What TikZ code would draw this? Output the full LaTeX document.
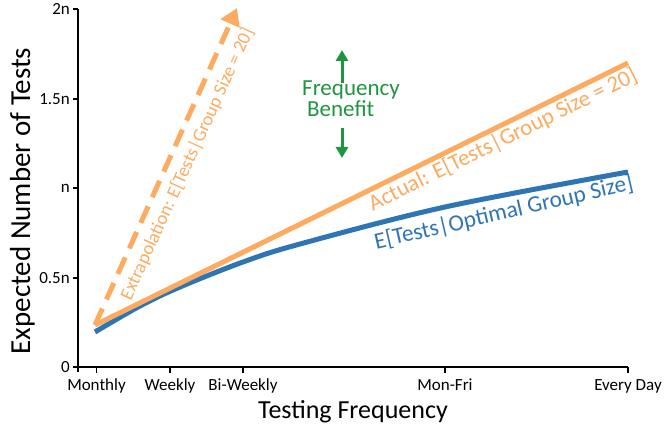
\documentclass[tikz,border=0pt]{standalone}
\usepackage{fontspec}
\setmainfont{Carlito}
\usetikzlibrary{arrows.meta}
\definecolor{corange}{RGB}{253,171,96}
\definecolor{cblue}{RGB}{46,117,182}
\definecolor{cgreen}{RGB}{30,150,65}
\begin{document}
\begin{tikzpicture}[x=1pt,y=-1pt,
  axisline/.style={line width=2.8pt, black},
  tickline/.style={line width=1.6pt, black},
  ticklab/.style={font=\fontsize{17}{20}\selectfont, inner sep=0pt},
  ytitle/.style={font=\fontsize{29}{32}\selectfont, inner sep=0pt},
  xtitle/.style={font=\fontsize{26}{30}\selectfont, inner sep=0pt},
  series/.style={line width=5pt},
  serieslab/.style={inner sep=0pt},
  benefit/.style={cgreen, line width=3pt, -{Triangle[width=12pt,length=11pt]}},
  ]
\useasboundingbox (0,0) rectangle (664,427);

% axes
\coordinate (ytop) at (78,9);
\coordinate (ybot) at (78,372);
\coordinate (xl) at (78,367);
\coordinate (xr) at (628,367);
\draw[axisline] (ytop) -- (ybot);
\draw[axisline] (xl) -- (xr);

% y ticks and labels
\foreach \v/\t/\n in {9/2n/ya, 99/1.5n/yb, 188/n/yc, 278/0.5n/yd, 367/0/ye}{
  \draw[tickline] (73,\v) -- (78,\v);
  \node[ticklab, anchor=east] (\n) at (70,\v) {\t};
}
% x ticks and labels
\foreach \u/\t/\n in {96.5/Monthly/xa, 170/Weekly/xb, 243/Bi-Weekly/xc, 445/Mon-Fri/xd, 628/Every Day/xe}{
  \draw[tickline] (\u,367) -- (\u,373);
  \node[ticklab, anchor=base] (\n) at (\u,391) {\t};
}

% axis titles
\node[xtitle, anchor=base] (xt) at (353,418) {Testing Frequency};
\node[ytitle, anchor=base, rotate=90] (yt) at (30,201) {Expected Number of Tests};

% optimal group size curve
\draw[series, cblue] plot[smooth, tension=0.55] coordinates
  {(95,332) (140,306) (180,287) (243,262) (300,244) (445,207) (628,172)};

% actual and extrapolation
\coordinate (o0) at (95,325);
\coordinate (oend) at (628,63);
\coordinate (xtip) at (237,8);
\draw[series, corange] (o0) -- (oend);
\draw[series, corange, dash pattern=on 18pt off 10pt,
      -{Triangle[width=20pt,length=17pt]}] (o0) -- (xtip);

% series labels
\node[serieslab, corange, rotate=65.5, font=\fontsize{18.7}{20}\selectfont] (extra) at (187.5,164)
  {Extrapolation: E[Tests|Group Size = 20]};
\node[serieslab, corange, rotate=26.2, font=\fontsize{22.8}{24}\selectfont] (actual) at (503,140)
  {Actual: E[Tests|Group Size = 20]};
\node[serieslab, cblue, rotate=13, font=\fontsize{23.3}{24}\selectfont] (optimal) at (504,213)
  {E[Tests|Optimal Group Size]};

% frequency benefit
\node[cgreen, inner sep=0pt, align=left, anchor=north west,
      font=\fontsize{23}{19.5}\selectfont] (fb) at (302,81)
  {Frequency\\\hspace*{5pt}Benefit};
\coordinate (ua) at (342,83);
\coordinate (ub) at (342,50);
\coordinate (da) at (342,128);
\coordinate (db) at (342,158);
\draw[benefit] (ua) -- (ub);
\draw[benefit] (da) -- (db);
\end{tikzpicture}
\end{document}
